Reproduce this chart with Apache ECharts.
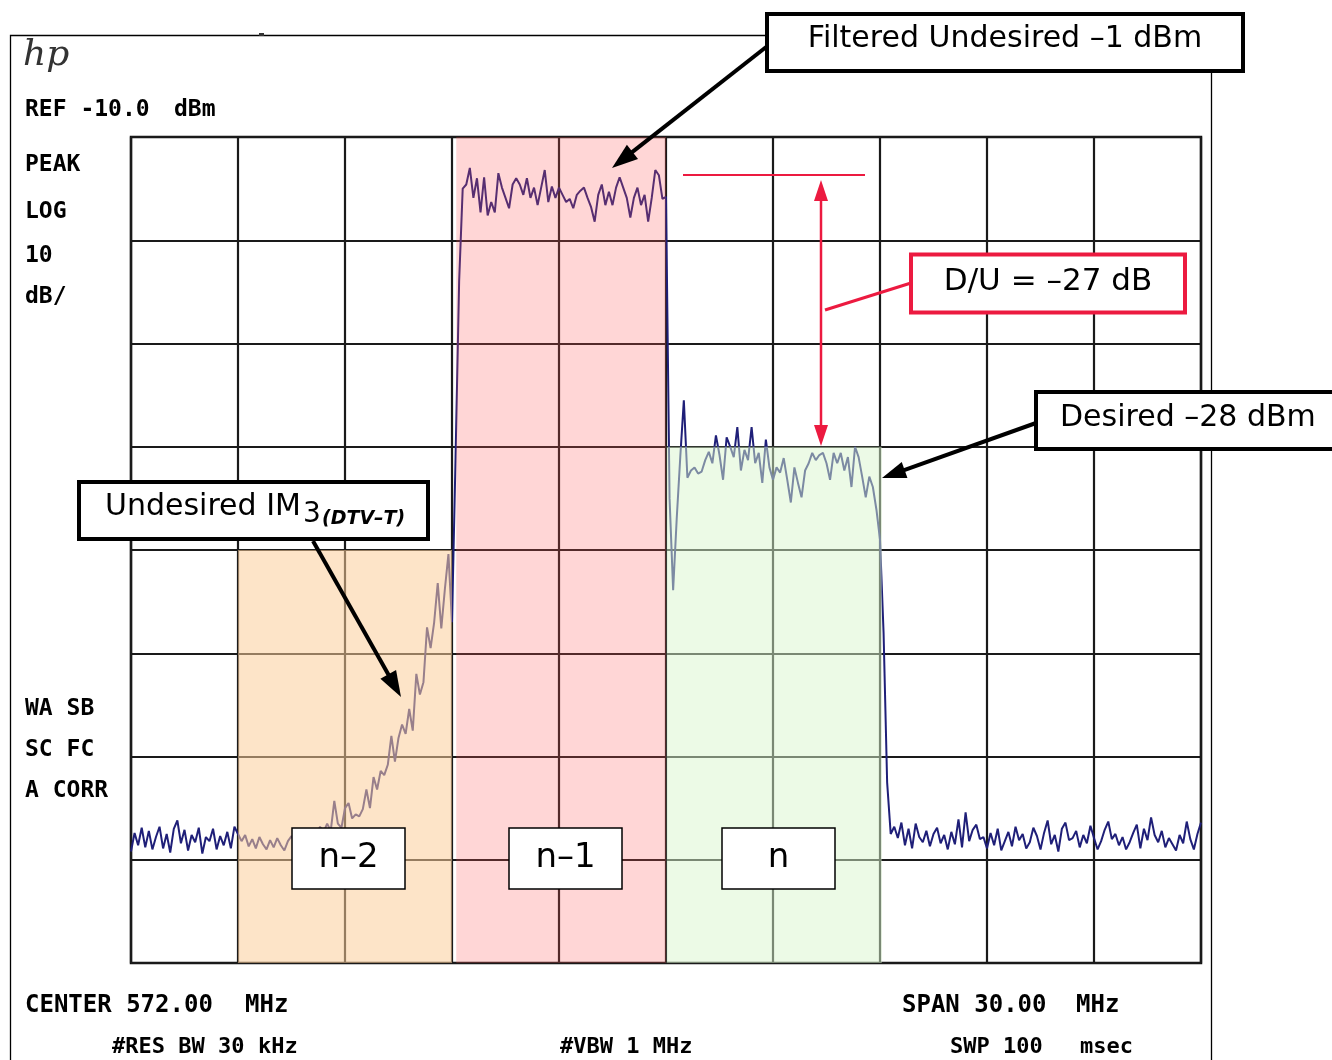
<!DOCTYPE html>
<html><head><meta charset="utf-8">
<script src="https://cdn.jsdelivr.net/npm/echarts@6/dist/echarts.min.js"></script>
<style>html,body{margin:0;padding:0;background:#fff}#c{width:1332px;height:1060px}</style>
</head><body><div id="c"></div><script>
// ---- instrument settings ----
const centerMHz = 572, spanMHz = 30, mhzPerDiv = 3;
const refLevelDbm = -10, dbPerDiv = 10, divisionsY = 8;
const sweepStepMHz = 0.1;

// ---- trace levels (dBm), one value per 0.1 MHz, in segments ----
const floorLeftStart = 557.0;
const floorLeft = [-79.2,-77.4,-78.6,-76.9,-78.8,-77.2,-79.0,-77.8,-76.8,-78.9,
  -77.5,-79.3,-77.0,-76.2,-78.4,-77.1,-79.1,-77.6,-78.3,-76.9,
  -79.4,-77.8,-78.2,-77.0,-79.0,-77.7,-78.6,-77.3,-78.9,-76.8,-77.5];
const im3Start = 560.1;
const im3 = [-78.2,-77.6,-78.7,-78.0,-78.9,-77.8,-78.5,-79.0,-78.1,-78.8,
  -77.9,-78.6,-79.1,-78.2,-77.7,-78.4,-77.2,-78.0,-77.4,-77.8,
  -77.0,-77.6,-76.8,-77.3,-76.5,-77.2,-74.3,-76.5,-76.9,-75.0,
  -74.5,-76.0,-75.6,-75.8,-75.1,-73.2,-75.0,-72.0,-73.2,-71.4,
  -71.8,-70.8,-68.0,-70.5,-68.2,-66.9,-67.8,-65.4,-67.5,-62.0,
  -64.0,-62.8,-57.5,-59.5,-57.0,-53.2,-57.6,-53.8,-50.4,-57.0];
const undesiredStart = 566.1;
const undesired = [-41.0,-24.0,
  -15.0,-14.6,-13.0,-15.9,-14.0,-17.3,-13.9,-17.6,-16.3,-17.3,
  -13.5,-14.9,-15.9,-16.9,-14.6,-14.0,-14.6,-15.6,-14.0,-15.9,
  -14.9,-16.6,-14.9,-13.2,-16.3,-14.8,-15.9,-14.9,-15.6,-16.3,
  -16.0,-16.9,-15.6,-15.2,-14.9,-15.9,-16.8,-18.2,-15.6,-14.6,
  -16.6,-15.3,-16.6,-14.9,-13.9,-14.9,-15.9,-17.8,-15.9,-14.9,
  -16.6,-15.6,-18.2,-15.9,-13.2,-13.7,-16.0,-15.8];
const desiredStart = 572.1;
const desired = [-45.0,-53.9,-47.0,-41.0,-35.5,-43.0,-42.3,-42.0,-42.6,-42.4,
  -41.3,-40.5,-41.6,-38.9,-40.8,-43.2,-39.1,-40.0,-41.0,-38.1,
  -42.3,-40.3,-41.3,-38.1,-41.6,-40.6,-43.5,-39.3,-42.0,-43.2,
  -42.0,-42.5,-41.1,-43.2,-45.4,-42.0,-43.5,-44.9,-42.3,-41.6,
  -40.6,-41.3,-40.8,-40.6,-41.6,-43.2,-40.6,-41.6,-40.6,-42.3,
  -41.0,-43.9,-40.0,-41.0,-42.9,-44.9,-42.9,-43.9,-46.1,-49.0,
  -58.0,-72.5,-77.5];
const floorRightStart = 578.4;
const floorRight = [-76.8,-77.9,-76.4,-78.6,-77.0,-78.9,-76.5,-77.8,-78.3,-77.2,
  -78.7,-77.5,-76.9,-78.4,-77.6,-79.0,-77.3,-78.5,-76.1,-78.8,
  -75.4,-78.2,-77.1,-76.6,-78.0,-77.8,-78.9,-77.4,-78.6,-77.0,
  -79.1,-78.2,-77.3,-78.7,-76.8,-78.1,-77.5,-78.9,-78.3,-76.9,
  -77.7,-79.0,-77.4,-76.2,-78.5,-77.6,-79.2,-77.0,-76.4,-78.1,
  -77.9,-77.2,-78.8,-77.6,-78.4,-76.7,-77.9,-79.0,-78.2,-77.1,
  -76.3,-78.0,-77.5,-78.6,-77.8,-79.0,-78.3,-77.4,-76.6,-78.9,
  -77.0,-78.1,-75.9,-77.6,-78.3,-77.2,-78.8,-77.9,-78.5,-79.1,
  -77.6,-78.4,-76.3,-78.0,-79.0,-77.5,-76.4];

// ---- channel bands ----
const bandLabels = ['n–2', 'n–1', 'n'];
const bandStart = [560.0, 566.12, 572.02];
const bandEnd = [566.0, 572.0, 578.05];
const bandTop = [-50, -10, -40];
const bandColors = ['rgba(251,206,155,0.55)', 'rgba(255,91,91,0.25)', 'rgba(217,245,205,0.5)'];

// ---- build ----
function seg(start, levels) {
  return levels.map((v, k) => [+(start + k * sweepStepMHz).toFixed(2), v]);
}
const trace = [].concat(
  seg(floorLeftStart, floorLeft), seg(im3Start, im3), seg(undesiredStart, undesired),
  seg(desiredStart, desired), seg(floorRightStart, floorRight));

const xMin = centerMHz - spanMHz / 2, xMax = centerMHz + spanMHz / 2;
const yMax = refLevelDbm, yMin = refLevelDbm - dbPerDiv * divisionsY;

function arrowHead(tip, from, len, half) {
  const dx = tip[0] - from[0], dy = tip[1] - from[1];
  const L = Math.hypot(dx, dy), ux = dx / L, uy = dy / L;
  const bx = tip[0] - ux * len, by = tip[1] - uy * len;
  return { pts: [[tip[0], tip[1]], [bx - uy * half, by + ux * half], [bx + uy * half, by - ux * half]], base: [bx + ux * 2, by + uy * 2] };
}
function arrow(from, tip, color, width, len, half) {
  const h = arrowHead(tip, from, len, half);
  return [
    { type: 'line', z: 100, shape: { x1: from[0], y1: from[1], x2: h.base[0], y2: h.base[1] }, style: { stroke: color, lineWidth: width } },
    { type: 'polygon', z: 100, shape: { points: h.pts }, style: { fill: color } }
  ];
}
function txt(text, x, y, font, opts) {
  opts = opts || {};
  return { type: 'text', z: 110, style: {
    text: text, x: x, y: y, font: font, fill: opts.fill || '#000',
    textAlign: opts.align || 'left', textVerticalAlign: 'middle',
    align: opts.align || 'left', verticalAlign: 'middle' } };
}
function box(x, y, w, h, stroke, lw) {
  return { type: 'rect', z: 105, shape: { x: x, y: y, width: w, height: h }, style: { fill: '#fff', stroke: stroke, lineWidth: lw } };
}

const MONO = '"DejaVu Sans Mono"';
const SANS = '"DejaVu Sans"';
const RED = '#ec1a40';

const graphics = [
  { type: 'rect', z: 90, shape: { x: 10.5, y: 35.5, width: 1201, height: 1040 }, style: { fill: 'none', stroke: '#000', lineWidth: 1.3 } },
  { type: 'rect', z: 91, shape: { x: 259, y: 33, width: 5, height: 3 }, style: { fill: '#333' } },
  txt('hp', 23, 56, 'italic 36px "DejaVu Serif"', { fill: '#333' }),
  txt('REF -10.0', 25, 110, 'bold 23px ' + MONO),
  txt('dBm', 174, 110, 'bold 23px ' + MONO),
  txt('PEAK', 25, 165, 'bold 23px ' + MONO),
  txt('LOG', 25, 212, 'bold 23px ' + MONO),
  txt('10', 25, 256, 'bold 23px ' + MONO),
  txt('dB/', 25, 297, 'bold 23px ' + MONO),
  txt('WA SB', 25, 709, 'bold 23px ' + MONO),
  txt('SC FC', 25, 750, 'bold 23px ' + MONO),
  txt('A CORR', 25, 791, 'bold 23px ' + MONO),
  txt('CENTER 572.00', 25, 1006, 'bold 24px ' + MONO),
  txt('MHz', 245, 1006, 'bold 24px ' + MONO),
  txt('SPAN 30.00', 902, 1006, 'bold 24px ' + MONO),
  txt('MHz', 1076, 1006, 'bold 24px ' + MONO),
  txt('#RES BW 30', 112, 1047, 'bold 22px ' + MONO),
  txt('kHz', 258, 1047, 'bold 22px ' + MONO),
  txt('#VBW 1 MHz', 560, 1047, 'bold 22px ' + MONO),
  txt('SWP 100', 950, 1047, 'bold 22px ' + MONO),
  txt('msec', 1080, 1047, 'bold 22px ' + MONO),

  // red D/U construction
  { type: 'line', z: 100, shape: { x1: 683, y1: 175, x2: 865, y2: 175 }, style: { stroke: RED, lineWidth: 2 } },
  { type: 'line', z: 100, shape: { x1: 821, y1: 195, x2: 821, y2: 432 }, style: { stroke: RED, lineWidth: 2.5 } },
  { type: 'polygon', z: 100, shape: { points: arrowHead([821, 180], [821, 444], 21, 7).pts }, style: { fill: RED } },
  { type: 'polygon', z: 100, shape: { points: arrowHead([821, 446], [821, 182], 21, 7).pts }, style: { fill: RED } },
  { type: 'line', z: 100, shape: { x1: 825, y1: 310, x2: 911, y2: 283 }, style: { stroke: RED, lineWidth: 3 } },
  box(911, 254.5, 274, 58, RED, 4),
  txt('D/U = –27 dB', 1048, 282, '31px ' + SANS, { align: 'center' })
].concat(arrow([770, 44], [612, 168], '#000', 4, 26, 9), [
  box(767, 14, 476, 57, '#000', 4),
  txt('Filtered Undesired –1 dBm', 1005, 39, '30px ' + SANS, { align: 'center' })
]).concat(arrow([1036, 423], [882, 478], '#000', 4, 24, 8.5), [
  box(1036, 392, 320, 57, '#000', 4),
  txt('Desired –28 dBm', 1060, 418, '30px ' + SANS)
]).concat(arrow([313, 541], [401, 697], '#000', 4, 26, 9), [
  box(79, 482, 349, 57, '#000', 4),
  txt('Undesired IM', 105, 507, '30px ' + SANS),
  txt('3', 303, 515, '28px ' + SANS),
  txt('(DTV–T)', 322, 519, 'italic bold 19px ' + SANS)
]);

// band label boxes
const bandBoxX = [292, 509, 722];
bandLabels.forEach((lab, k) => {
  graphics.push(box(bandBoxX[k], 828, 113, 61, '#000', 1.5));
  graphics.push(txt(lab, bandBoxX[k] + 56.5, 858, '34px ' + SANS, { align: 'center' }));
});

const chart = echarts.init(document.getElementById('c'), null, { renderer: 'canvas' });
chart.setOption({
  animation: false,
  backgroundColor: '#fff',
  grid: { left: 131, top: 137, right: 131, bottom: 97, show: true, borderColor: '#111', borderWidth: 2.5, backgroundColor: 'transparent' },
  xAxis: {
    type: 'value', min: xMin, max: xMax, interval: mhzPerDiv,
    axisLabel: { show: false }, axisTick: { show: false }, axisLine: { show: false },
    splitLine: { show: true, lineStyle: { color: '#1a1a1a', width: 2.2 } }
  },
  yAxis: {
    type: 'value', min: yMin, max: yMax, interval: dbPerDiv,
    axisLabel: { show: false }, axisTick: { show: false }, axisLine: { show: false },
    splitLine: { show: true, lineStyle: { color: '#1a1a1a', width: 2.2 } }
  },
  series: [
    {
      type: 'line', data: trace, showSymbol: false, symbol: 'none', z: 2,
      lineStyle: { color: '#1f1f78', width: 2 }, silent: true
    },
    {
      type: 'line', data: [], z: 5, silent: true,
      markArea: {
        z: 10, silent: true, label: { show: false },
        data: bandStart.map((s, k) => [
          { xAxis: s, yAxis: yMin, itemStyle: { color: bandColors[k] } },
          { xAxis: bandEnd[k], yAxis: bandTop[k] }
        ])
      }
    }
  ],
  graphic: { elements: graphics }
});
</script></body></html>
